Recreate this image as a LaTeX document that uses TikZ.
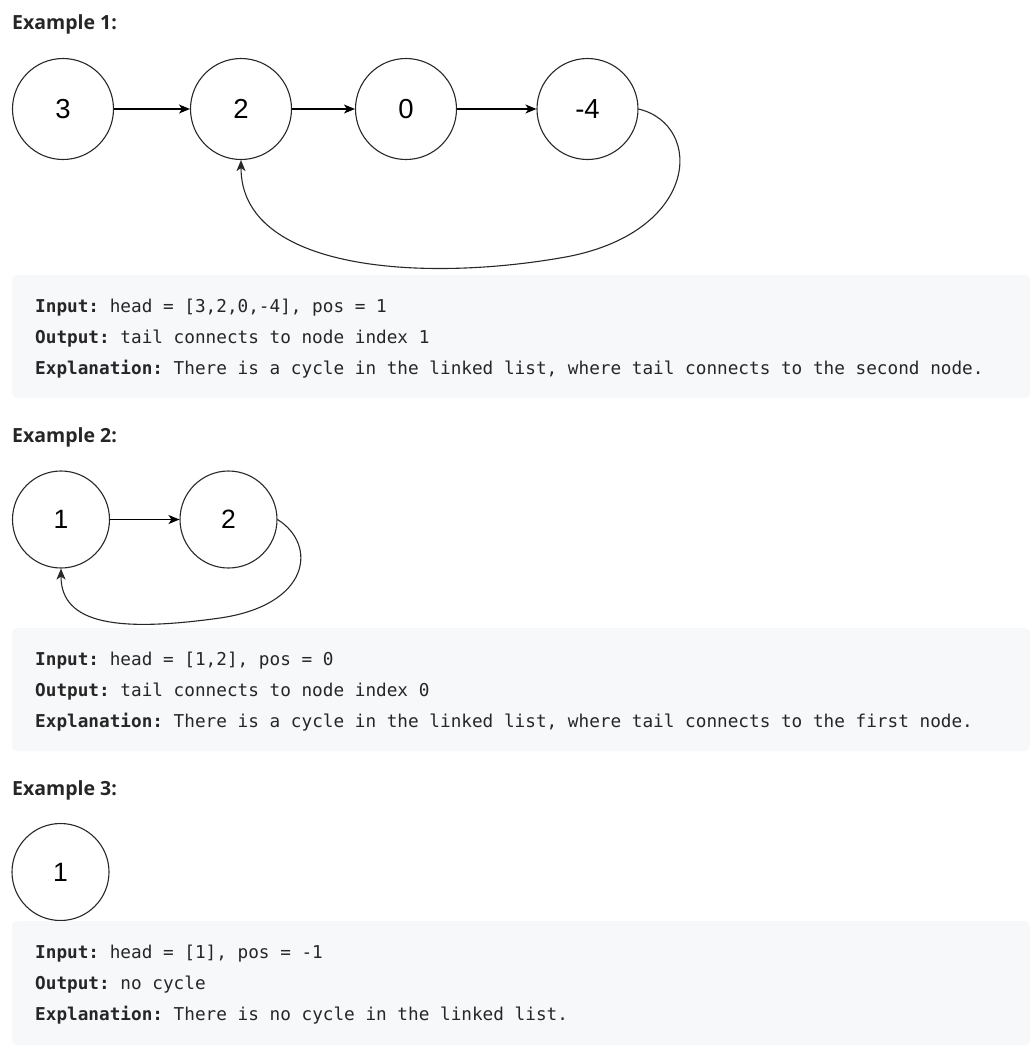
\documentclass[tikz,border=0pt]{standalone}
\usepackage{fontspec}
\setmainfont{Liberation Sans}
\setmonofont{DejaVu Sans Mono}
\newfontfamily\headfont{Open Sans}
\usetikzlibrary{arrows.meta}
\definecolor{txt}{RGB}{38,38,38}
\definecolor{blockgray}{RGB}{247,248,250}
\definecolor{linec}{RGB}{40,40,40}
\tikzset{
  bigcirc/.style={circle,draw=linec,line width=1.1pt,minimum size=101pt,inner sep=0pt,font=\fontsize{27.5}{30}\selectfont},
  smallcirc/.style={circle,draw=linec,line width=1.1pt,minimum size=97pt,inner sep=0pt,font=\fontsize{26.5}{30}\selectfont},
  link/.style={draw=black,line width=1.1pt,-{Stealth[length=11pt,width=9pt,inset=3pt]}},
  backlink/.style={draw=linec,line width=1.1pt,-{Stealth[length=11pt,width=9pt,inset=3pt]}},
  codeblock/.style={fill=blockgray,rounded corners=5pt},
  heading/.style={anchor=base west,inner sep=0pt,text=txt,font=\headfont\bfseries\fontsize{19.5}{22}\selectfont},
  codeline/.style={anchor=base west,inner sep=0pt,text=txt,font=\ttfamily\fontsize{17.7}{20}\selectfont}
}
\begin{document}
\begin{tikzpicture}[x=1pt,y=-1pt]
\useasboundingbox (0,0) rectangle (1036,1050);
% ---------- Example 1 ----------
\node[heading] (h1) at (12,29) {Example 1:};
\node[bigcirc] (a3) at (63,109) {3};
\node[bigcirc] (a2) at (241,109) {2};
\node[bigcirc] (a0) at (406,109) {0};
\node[bigcirc] (a4) at (587.5,109) {-4};
\draw[link] (a3) -- (a2);
\draw[link] (a2) -- (a0);
\draw[link] (a0) -- (a4);
\draw[backlink] (a4.east) .. controls (705,125) and (700,235) .. (560,258)
  .. controls (420,282) and (241,270) .. (a2.south);
\fill[codeblock] (12,275) rectangle (1030,398);
\node[codeline] (i1) at (35,312) {\textbf{Input:} head = [3,2,0,-4], pos = 1};
\node[codeline] (o1) at (35,343) {\textbf{Output:} tail connects to node index 1};
\node[codeline] (e1) at (35,374) {\textbf{Explanation:} There is a cycle in the linked list, where tail connects to the second node.};
% ---------- Example 2 ----------
\node[heading] (h2) at (12,442) {Example 2:};
\node[smallcirc] (b1) at (61,519.5) {1};
\node[smallcirc] (b2) at (228.5,519.5) {2};
\draw[link] (b1) -- (b2);
\draw[backlink] (b2.east) .. controls (318,545) and (310,605) .. (220,618)
  .. controls (120,632) and (61,625) .. (b1.south);
\fill[codeblock] (12,628) rectangle (1030,751);
\node[codeline] (i2) at (35,665) {\textbf{Input:} head = [1,2], pos = 0};
\node[codeline] (o2) at (35,696) {\textbf{Output:} tail connects to node index 0};
\node[codeline] (e2) at (35,727) {\textbf{Explanation:} There is a cycle in the linked list, where tail connects to the first node.};
% ---------- Example 3 ----------
\node[heading] (h3) at (12,795) {Example 3:};
\node[smallcirc] (c1) at (60.5,872) {1};
\fill[codeblock] (12,921) rectangle (1030,1045);
\node[codeline] (i3) at (35,958) {\textbf{Input:} head = [1], pos = -1};
\node[codeline] (o3) at (35,989) {\textbf{Output:} no cycle};
\node[codeline] (e3) at (35,1020) {\textbf{Explanation:} There is no cycle in the linked list.};
\end{tikzpicture}
\end{document}
